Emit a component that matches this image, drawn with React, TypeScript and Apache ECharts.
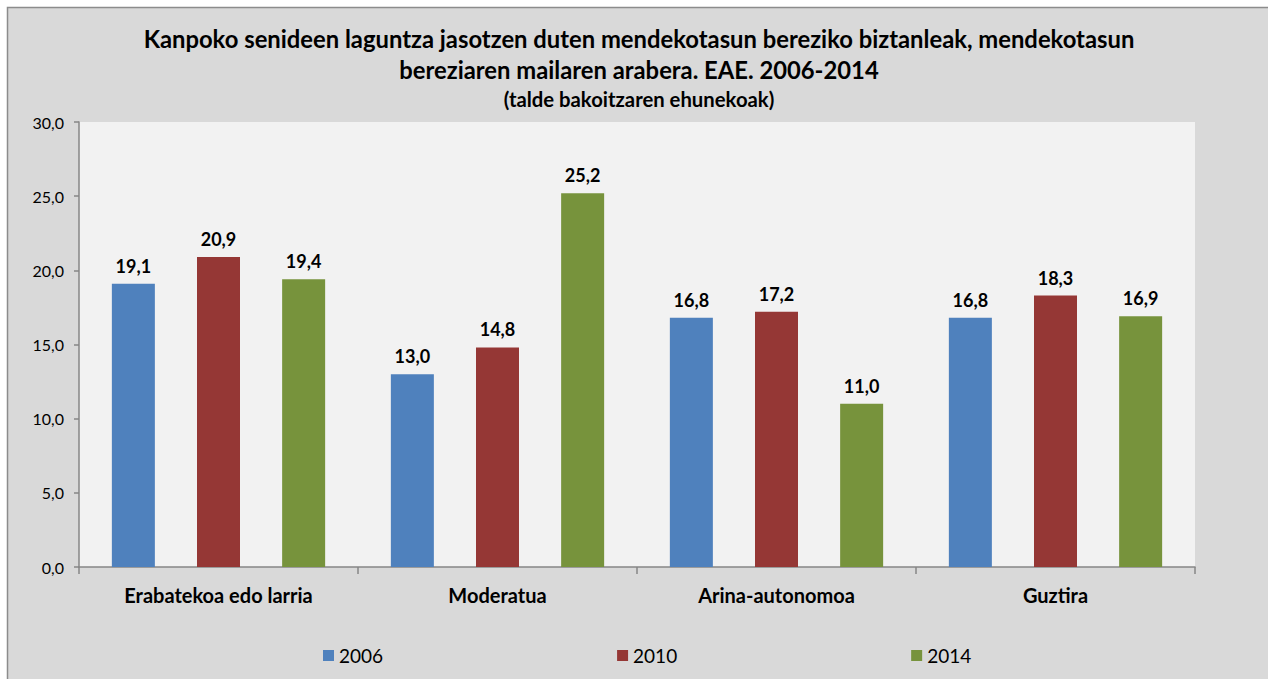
import React, { useEffect, useRef } from "react";
import * as echarts from "echarts";

const categories = ["Erabatekoa edo larria", "Moderatua", "Arina-autonomoa", "Guztira"];
const seriesNames = ["2006", "2010", "2014"];
const values2006 = [19.1, 13.0, 16.8, 16.8];
const values2010 = [20.9, 14.8, 17.2, 18.3];
const values2014 = [19.4, 25.2, 11.0, 16.9];
const colors = ["#4f81bd", "#953735", "#77933c"];
const titleLine1 = "Kanpoko senideen laguntza jasotzen duten mendekotasun bereziko biztanleak, mendekotasun";
const titleLine2 = "bereziaren mailaren arabera. EAE. 2006-2014";
const subTitle = "(talde bakoitzaren ehunekoak)";

const FONT = "Lato";
const fmt = (v: number) => v.toFixed(1).replace(".", ",");

export default function App() {
  const ref = useRef<HTMLDivElement>(null);
  useEffect(() => {
    document.body.style.margin = "0";
    const chart = echarts.init(ref.current!, null, { renderer: "svg" });
    const data = [values2006, values2010, values2014];
    const centerText = (text: string, y: number, size: number) => ({
      type: "text",
      x: 639,
      y,
      style: {
        text,
        font: `bold ${size}px ${FONT}`,
        fill: "#000",
        textAlign: "center",
        textVerticalAlign: "middle",
        align: "center",
        verticalAlign: "middle",
      },
    });
    chart.setOption({
      animation: false,
      backgroundColor: "#ffffff",
      textStyle: { fontFamily: FONT },
      graphic: [
        {
          type: "rect",
          z: -10,
          silent: true,
          shape: { x: 7.5, y: 7.5, width: 1300, height: 700 },
          style: { fill: "#d9d9d9", stroke: "#8c8c8c", lineWidth: 1.5 },
        },
        centerText(titleLine1, 39, 23.8),
        centerText(titleLine2, 70, 23.8),
        centerText(subTitle, 99, 20.3),
      ],
      grid: {
        left: 79,
        right: 73,
        top: 122,
        bottom: 112,
        show: true,
        backgroundColor: "#f2f2f2",
        borderWidth: 0,
      },
      legend: {
        left: 318,
        top: 641,
        itemWidth: 11,
        itemHeight: 11,
        itemGap: 234,
        icon: "rect",
        textStyle: { fontSize: 19, color: "#000", fontFamily: FONT },
        data: seriesNames,
      },
      xAxis: {
        type: "category",
        data: categories,
        axisLine: { lineStyle: { color: "#868686", width: 1.5 } },
        axisTick: { show: true, length: 7, alignWithLabel: false, lineStyle: { color: "#868686", width: 1.5 } },
        axisLabel: { fontSize: 20, fontWeight: "bold", color: "#000", margin: 18, fontFamily: FONT },
        splitLine: { show: false },
      },
      yAxis: {
        type: "value",
        min: 0,
        max: 30,
        interval: 5,
        axisLine: { show: true, lineStyle: { color: "#868686", width: 1.5 } },
        axisTick: { show: true, length: 5, lineStyle: { color: "#868686", width: 1.5 } },
        axisLabel: { fontSize: 16, color: "#000", margin: 15, formatter: (v: number) => fmt(v), fontFamily: FONT },
        splitLine: { show: false },
      },
      series: seriesNames.map((name, i) => ({
        name,
        type: "bar",
        data: data[i],
        barWidth: 43,
        barGap: "98%",
        itemStyle: { color: colors[i] },
        label: {
          show: true,
          position: "top",
          distance: 9,
          fontSize: 18,
          fontWeight: "bold",
          color: "#000",
          fontFamily: FONT,
          formatter: (p: any) => fmt(p.value),
        },
      })),
    });
    return () => chart.dispose();
  }, []);
  return <div ref={ref} style={{ width: 1268, height: 679 }} />;
}
